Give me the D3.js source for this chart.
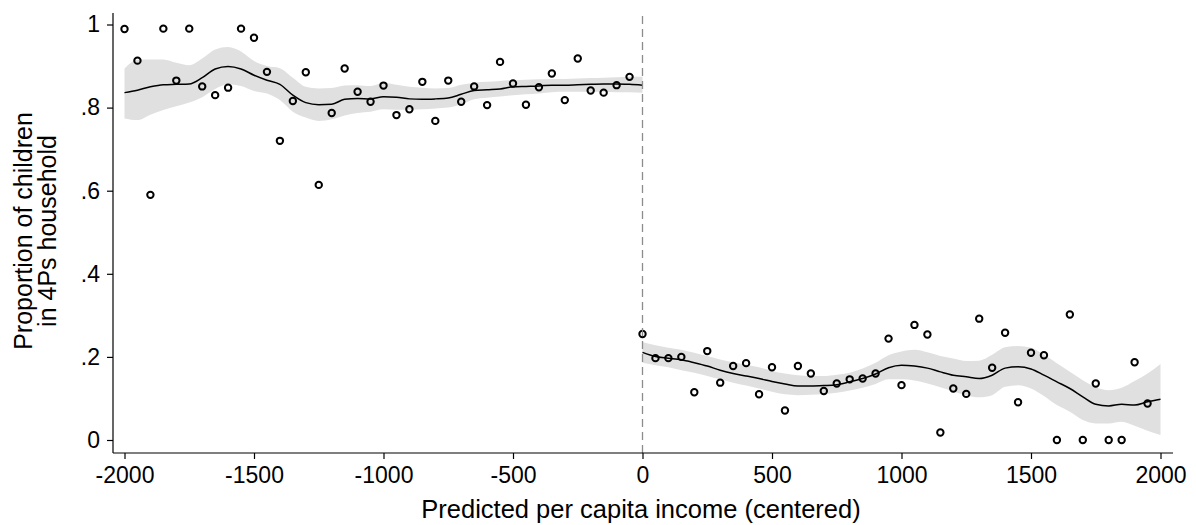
<!DOCTYPE html>
<html>
<head>
<meta charset="utf-8">
<script src="https://cdn.jsdelivr.net/npm/d3@7"></script>
<style>
  html, body { margin: 0; padding: 0; background: #fff; }
  svg { display: block; }
  text { font-family: "Liberation Sans", Arial, sans-serif; fill: #000; }
</style>
</head>
<body>
<svg id="chart" width="1196" height="525"></svg>
<script>
// ---- data ----
const xTicks = [-2000, -1500, -1000, -500, 0, 500, 1000, 1500, 2000];
const yTicks = [0, 0.2, 0.4, 0.6, 0.8, 1];
const yTickLabels = ["0", ".2", ".4", ".6", ".8", "1"];

const leftBinX = [-2000,-1950,-1900,-1850,-1800,-1750,-1700,-1650,-1600,-1550,-1500,-1450,-1400,-1350,-1300,-1250,-1200,-1150,-1100,-1050,
                  -1000,-950,-900,-850,-800,-750,-700,-650,-600,-550,-500,-450,-400,-350,-300,-250,-200,-150,-100,-50];
const leftBinY = [0.989,0.913,0.590,0.990,0.865,0.990,0.851,0.830,0.848,0.990,0.968,0.886,0.720,0.816,0.885,0.614,0.787,0.894,0.838,0.814,
                  0.853,0.782,0.796,0.862,0.768,0.865,0.814,0.851,0.806,0.910,0.858,0.807,0.849,0.882,0.818,0.918,0.841,0.836,0.854,0.874];

const rightBinX = [0,50,100,150,200,250,300,350,400,450,500,550,600,650,700,750,800,850,900,950,
                   1000,1050,1100,1150,1200,1250,1300,1350,1400,1450,1500,1550,1600,1650,1700,1750,1800,1850,1900,1950];
const rightBinY = [0.255,0.197,0.197,0.200,0.115,0.214,0.138,0.178,0.185,0.110,0.175,0.071,0.178,0.160,0.118,0.136,0.146,0.148,0.160,0.244,
                   0.132,0.277,0.254,0.018,0.124,0.111,0.292,0.174,0.258,0.091,0.210,0.204,0,0.302,0,0.136,0,0,0.187,0.088];

const leftFitX = [-2000,-1950,-1900,-1850,-1800,-1750,-1700,-1650,-1600,-1550,-1500,-1450,-1400,-1350,-1300,-1250,-1200,-1150,-1100,-1050,
                  -1000,-950,-900,-850,-800,-750,-700,-650,-600,-550,-500,-450,-400,-350,-300,-250,-200,-150,-100,-50,0];
const leftFit   = [0.836,0.842,0.850,0.855,0.856,0.857,0.872,0.893,0.899,0.893,0.878,0.866,0.856,0.830,0.812,0.807,0.808,0.820,0.822,0.821,
                   0.826,0.825,0.821,0.820,0.821,0.823,0.832,0.841,0.843,0.845,0.850,0.851,0.852,0.854,0.854,0.855,0.856,0.857,0.857,0.856,0.854];
const leftLo    = [0.774,0.770,0.783,0.794,0.803,0.812,0.825,0.845,0.856,0.852,0.840,0.834,0.818,0.790,0.776,0.768,0.772,0.781,0.787,0.790,
                   0.796,0.795,0.795,0.796,0.798,0.800,0.808,0.820,0.824,0.827,0.830,0.832,0.834,0.837,0.838,0.838,0.838,0.838,0.837,0.837,0.836];
const leftHi    = [0.894,0.915,0.916,0.916,0.908,0.902,0.918,0.940,0.946,0.935,0.912,0.900,0.895,0.872,0.850,0.846,0.847,0.853,0.854,0.852,
                   0.859,0.855,0.850,0.848,0.846,0.847,0.855,0.860,0.862,0.864,0.866,0.867,0.868,0.869,0.869,0.870,0.871,0.872,0.873,0.874,0.874];

const rightFitX = [0,50,100,150,200,250,300,350,400,450,500,550,600,650,700,750,800,850,900,950,
                   1000,1050,1100,1150,1200,1250,1300,1350,1400,1450,1500,1550,1600,1650,1700,1750,1800,1850,1900,1950,2000];
const rightFit  = [0.211,0.201,0.197,0.193,0.186,0.178,0.168,0.160,0.154,0.148,0.141,0.135,0.130,0.130,0.131,0.133,0.140,0.148,0.159,0.174,
                   0.180,0.178,0.173,0.164,0.156,0.152,0.148,0.156,0.173,0.176,0.171,0.156,0.140,0.124,0.104,0.086,0.082,0.086,0.084,0.092,0.098];
const rightLo   = [0.186,0.180,0.175,0.168,0.162,0.154,0.146,0.138,0.131,0.124,0.116,0.110,0.108,0.109,0.111,0.114,0.119,0.126,0.135,0.146,
                   0.146,0.143,0.136,0.127,0.117,0.108,0.103,0.108,0.128,0.132,0.124,0.106,0.084,0.068,0.048,0.040,0.040,0.044,0.034,0.022,0.012];
const rightHi   = [0.236,0.228,0.222,0.217,0.210,0.202,0.194,0.187,0.181,0.175,0.166,0.160,0.156,0.154,0.154,0.157,0.162,0.172,0.186,0.204,
                   0.213,0.217,0.211,0.202,0.196,0.190,0.191,0.205,0.223,0.226,0.222,0.205,0.185,0.164,0.144,0.127,0.120,0.126,0.142,0.160,0.183];

const xTitle = "Predicted per capita income (centered)";
const yTitle = ["Proportion of children", "in 4Ps household"];

// ---- layout ----
const svg = d3.select("#chart");
const x = d3.scaleLinear().domain([-2000, 2000]).range([124.5, 1160.5]);
const y = d3.scaleLinear().domain([0, 1]).range([440, 24.5]);
const plotTop = 13, plotBottom = 453, plotLeft = 113, plotRight = 1173;

const bandColor = "#e0e0e0";

function drawSide(fx, f, lo, hi, bx, by) {
  const rows = fx.map((v, i) => ({x: v, f: f[i], lo: lo[i], hi: hi[i]}));
  const area = d3.area().x(d => x(d.x)).y0(d => y(d.lo)).y1(d => y(d.hi)).curve(d3.curveMonotoneX);
  const line = d3.line().x(d => x(d.x)).y(d => y(d.f)).curve(d3.curveMonotoneX);
  svg.append("path").datum(rows).attr("d", area).attr("fill", bandColor).attr("stroke", "none");
  svg.append("path").datum(rows).attr("d", line).attr("fill", "none").attr("stroke", "#000").attr("stroke-width", 1.5);
  const pts = bx.map((v, i) => ({x: v, y: by[i]}));
  svg.append("g").selectAll("circle").data(pts).join("circle")
    .attr("cx", d => x(d.x)).attr("cy", d => y(d.y)).attr("r", 3.2)
    .attr("fill", "none").attr("stroke", "#000").attr("stroke-width", 2);
}

// bands, lines, points
drawSide(leftFitX, leftFit, leftLo, leftHi, leftBinX, leftBinY);
drawSide(rightFitX, rightFit, rightLo, rightHi, rightBinX, rightBinY);

// cutoff dashed line
svg.append("line")
  .attr("x1", x(0)).attr("x2", x(0)).attr("y1", plotTop + 3).attr("y2", plotBottom)
  .attr("stroke", "#8c8c8c").attr("stroke-width", 1.3).attr("stroke-dasharray", "8,5");

// axes
const xAxis = d3.axisBottom(x).tickValues(xTicks).tickFormat(d3.format("d")).tickSize(6).tickSizeOuter(0).tickPadding(8);
const gx = svg.append("g").attr("transform", `translate(0,${plotBottom})`).call(xAxis);
gx.select(".domain").remove();
gx.selectAll(".tick line").attr("stroke", "#000").attr("stroke-width", 1.2);
gx.selectAll(".tick text").attr("font-size", 23).attr("font-family", "Liberation Sans, Arial, sans-serif").attr("fill", "#000");
gx.selectAll(".tick text").text(d => d < 0 ? "-" + Math.abs(d) : String(d));

const yAxis = d3.axisLeft(y).tickValues(yTicks).tickFormat((d, i) => yTickLabels[i]).tickSize(6).tickSizeOuter(0).tickPadding(7);
const gy = svg.append("g").attr("transform", `translate(${plotLeft},0)`).call(yAxis);
gy.select(".domain").remove();
gy.selectAll(".tick line").attr("stroke", "#000").attr("stroke-width", 1.2);
gy.selectAll(".tick text").attr("font-size", 23).attr("font-family", "Liberation Sans, Arial, sans-serif").attr("fill", "#000");

svg.append("line").attr("x1", plotLeft).attr("x2", plotRight).attr("y1", plotBottom).attr("y2", plotBottom)
  .attr("stroke", "#000").attr("stroke-width", 1.2);
svg.append("line").attr("x1", plotLeft).attr("x2", plotLeft).attr("y1", plotTop).attr("y2", plotBottom)
  .attr("stroke", "#000").attr("stroke-width", 1.2);

// titles
svg.append("text").attr("x", 641).attr("y", 518).attr("text-anchor", "middle")
  .attr("font-size", 25.5).text(xTitle);

const yt = svg.append("text").attr("transform", "translate(0,231) rotate(-90)").attr("text-anchor", "middle").attr("font-size", 25);
yt.append("tspan").attr("x", 0).attr("y", 32).text(yTitle[0]);
yt.append("tspan").attr("x", 0).attr("y", 56).text(yTitle[1]);
</script>
</body>
</html>
